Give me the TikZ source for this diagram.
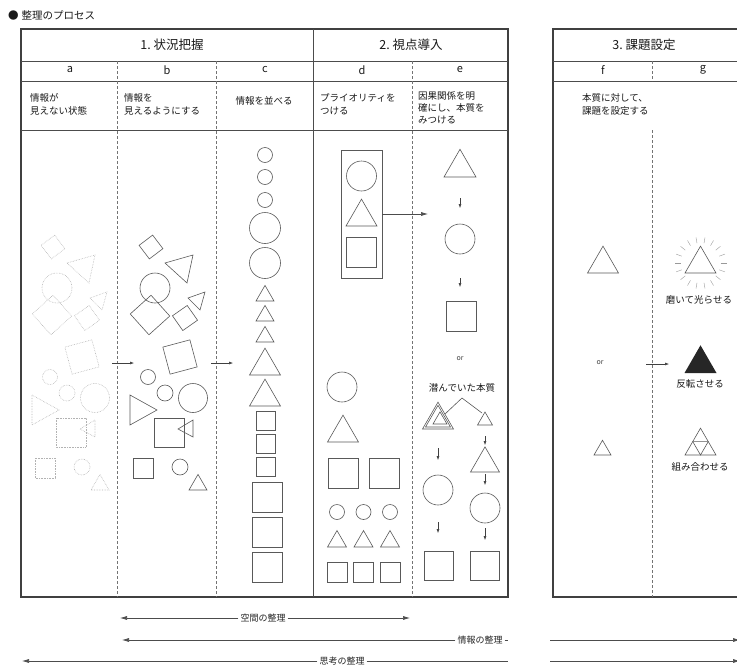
\documentclass[tikz,border=0pt]{standalone}
\usepackage{fontspec}
\setmainfont{Noto Sans CJK JP}
\usetikzlibrary{arrows.meta}
\tikzset{
  frame/.style={draw=black!75,line width=1.1pt},
  rule/.style={draw=black!70,line width=0.7pt},
  sep/.style={draw=black!55,densely dashed,line width=0.5pt},
  fig/.style={draw=black!65,line width=0.6pt},
  faint/.style={draw=black!30,densely dotted,line width=0.6pt},
  sq/.style={fig,rectangle,minimum size=#1,inner sep=0pt},
  tip/.style={draw=black!75,line width=0.5pt,-{Latex[length=4pt,width=3pt]}},
  span/.style={draw=black!70,line width=0.6pt,-{Latex[length=7pt,width=4pt]}},
  bare/.style={draw=black!70,line width=0.6pt},
  ray/.style={draw=black!40,line width=0.4pt},
  head/.style={font=\fontsize{12.5}{14}\selectfont,text=black!90},
  colname/.style={font=\fontsize{11}{13}\selectfont,text=black!90},
  note/.style={font=\fontsize{9.5}{13.5}\selectfont,text=black!90,align=left,inner sep=0pt},
  small/.style={font=\fontsize{7}{8}\selectfont,text=black!75},
  lbl/.style={font=\fontsize{9}{11}\selectfont,text=black!85,fill=white,inner sep=2pt},
}
% triangle: centre x, base y, width
\newcommand{\tri}[3]{(#1-#3/2,#2) -- (#1+#3/2,#2) -- (#1,#2-0.866*#3) -- cycle}
% scattered shapes of column b
\newcommand{\scatter}{%
  \node[pile,rectangle,inner sep=0pt,minimum size=17pt,rotate=37] at (151,247) {};
  \draw[pile] (165,263) -- (193,255) -- (187,283) -- cycle;
  \draw[pile] (155,288) circle (15pt);
  \node[pile,rectangle,inner sep=0pt,minimum size=28pt,rotate=42] at (150,315) {};
  \draw[pile] (188,298) -- (205,292) -- (200,310) -- cycle;
  \node[pile,rectangle,inner sep=0pt,minimum size=18pt,rotate=35] at (185,318) {};
  \node[pile,rectangle,inner sep=0pt,minimum size=28pt,rotate=15] at (180,357) {};
  \draw[pile] (148,377) circle (7.5pt);
  \draw[pile] (165,393) circle (8pt);
  \draw[pile] (193,398) circle (14.5pt);
  \draw[pile] (130,395) -- (157,410) -- (130,425) -- cycle;
  \draw[pile] (154,418) rectangle (184,447);
  \draw[pile] (193,420) -- (178,429) -- (193,437) -- cycle;
  \draw[pile] (133,458) rectangle (153,478);
  \draw[pile] (180,467) circle (8pt);
  \draw[pile] \tri{198}{490}{18};
}

\begin{document}
\begin{tikzpicture}[x=1pt,y=-1pt]
  \useasboundingbox (0,0) rectangle (737,667);
  \clip (0,0) rectangle (737,667);

  \node[anchor=west,inner sep=0pt,font=\fontsize{10.5}{12}\selectfont,text=black!90] (title) at (8,15) {●\hspace{3pt}整理のプロセス};

  % Tables
  \draw[frame] (21,29) rectangle (508,597);
  \draw[frame] (553,29) rectangle (760,597);
  \draw[rule] (313,29) -- (313,597);
  \foreach \y in {61,81,130} \draw[rule] (21,\y) -- (508,\y);
  \foreach \y in {61,81} \draw[rule] (553,\y) -- (760,\y);
  \foreach \x in {117,216,412} \draw[sep] (\x,61) -- (\x,597);
  \draw[sep] (652,61) -- (652,81);
  \draw[sep] (652,130) -- (652,597);

  % Headings
  \node[head] (step1) at (172,45) {1.\ 状況把握};
  \node[head] (step2) at (411,45) {2.\ 視点導入};
  \node[head] (step3) at (644,45) {3.\ 課題設定};
  \foreach \n/\x in {a/70,b/167,c/265,d/362,e/460,f/603,g/703}
    \node[colname] (col\n) at (\x,70) {\n};

  \node[note,anchor=north west] (txta) at (30,93) {情報が\\見えない状態};
  \node[note,anchor=north west] (txtb) at (124,93) {情報を\\見えるようにする};
  \node[note] (txtc) at (264,101) {情報を並べる};
  \node[note,anchor=north west] (txtd) at (320,93) {プライオリティを\\つける};
  \node[note,anchor=north west,font=\fontsize{9.5}{12}\selectfont] (txte) at (418,91) {因果関係を明\\確にし、本質を\\みつける};
  \node[note,anchor=north west] (txtfg) at (582,93) {本質に対して、\\課題を設定する};

  % a and b
  \begin{scope}[xshift=-98pt,pile/.style={faint}]
    \scatter
  \end{scope}
  \begin{scope}[pile/.style={fig}]
    \scatter
  \end{scope}
  \coordinate (ab0) at (112,363); \coordinate (ab1) at (134,363);
  \coordinate (bc0) at (211,363); \coordinate (bc1) at (233,363);
  \draw[tip] (ab0) -- (ab1);
  \draw[tip] (bc0) -- (bc1);

  % c
  \foreach \y in {155,177,200} \draw[fig] (265,\y) circle (7.5pt);
  \foreach \y in {228,263} \draw[fig] (265,\y) circle (15.5pt);
  \foreach \y in {301,321,342} \draw[fig] \tri{265}{\y}{18};
  \foreach \y in {375,406} \draw[fig] \tri{265}{\y}{31};
  \foreach \y in {421,444,467} \node[sq=19pt] at (266,\y) {};
  \foreach \y in {497,532,567} \node[sq=30pt] at (267,\y) {};

  % d
  \node[fig,minimum width=41pt,minimum height=128pt,inner sep=0pt] (prio) at (361.5,214) {};
  \draw[fig] (361.5,176) circle (15pt);
  \draw[fig] \tri{361.5}{226}{31};
  \node[sq=30pt] at (361.5,252) {};
  \coordinate (cause) at (428,214);
  \draw[span] (prio.east) -- (cause);
  \draw[fig] (342,387) circle (15pt);
  \draw[fig] \tri{343}{442}{31};
  \node[sq=30pt] at (343,473) {};
  \node[sq=30pt] at (384,473) {};
  \foreach \x in {337,363.5,390} {
    \draw[fig] (\x,512) circle (7.5pt);
    \draw[fig] \tri{\x}{547}{19};
    \node[sq=20pt] at (\x,572) {};
  }

  % e
  \draw[fig] \tri{460}{177}{32};
  \draw[tip] (460,198) -- (460,208);
  \draw[fig] (460,239) circle (15pt);
  \draw[tip] (460,278) -- (460,287);
  \node[sq=30pt] at (461,316) {};
  \node[small] (or1) at (460,359) {or};
  \node[note] (hidden) at (462,388) {潜んでいた本質};
  \draw[fig] (445,414) -- (462,398) -- (482,413);
  \draw[fig] \tri{438}{429}{31};
  \draw[fig] \tri{438}{427}{25};
  \draw[fig] \tri{440}{424}{14};
  \draw[fig] \tri{485}{425}{15};
  \draw[tip] (438,448) -- (438,460);
  \draw[fig] (438,490) circle (15pt);
  \draw[tip] (438,522) -- (438,533);
  \node[sq=29pt] at (438.5,566) {};
  \draw[tip] (485,436) -- (485,445);
  \draw[fig] \tri{485}{472}{29};
  \draw[tip] (485,474) -- (485,485);
  \draw[fig] (485,508) circle (15pt);
  \draw[tip] (485,528) -- (485,540);
  \node[sq=29pt] at (484.5,566) {};

  % f
  \draw[fig] \tri{603}{273}{31};
  \node[small] (or2) at (600,363) {or};
  \draw[fig] \tri{602.5}{455}{17};
  \coordinate (fg0) at (646,364); \coordinate (fg1) at (669,364);
  \draw[tip] (fg0) -- (fg1);

  % g
  \draw[fig] \tri{700.5}{273}{31};
  \foreach \a in {0,20,...,340}
    \draw[ray] ([shift={(\a:20pt)}]700.5,263) -- ([shift={(\a:26pt)}]700.5,263);
  \node[note] (shine) at (699,300) {磨いて光らせる};
  \fill[black!85] \tri{700.5}{373}{32};
  \node[note] (invert) at (700,384) {反転させる};
  \draw[fig] \tri{700.5}{455}{31};
  \draw[fig] (692.75,441.6) -- (708.25,441.6) -- (700.5,455) -- cycle;
  \node[note] (combine) at (700,467) {組み合わせる};

  % Ranges
  \node[lbl] (space) at (263,618) {空間の整理};
  \coordinate (spaceL) at (120,618); \coordinate (spaceR) at (410,618);
  \draw[span] (space.west) -- (spaceL);
  \draw[span] (space.east) -- (spaceR);
  \node[lbl] (info) at (480,640) {情報の整理};
  \coordinate (infoL) at (122,640); \coordinate (infoR) at (508,640);
  \draw[span] (info.west) -- (infoL);
  \draw[bare] (info.east) -- (infoR);
  \node[lbl] (thought) at (342,661) {思考の整理};
  \coordinate (thoughtL) at (22,661); \coordinate (thoughtR) at (508,661);
  \draw[span] (thought.west) -- (thoughtL);
  \draw[bare] (thought.east) -- (thoughtR);
  \coordinate (info3L) at (550,640); \coordinate (info3R) at (740,640);
  \coordinate (thought3L) at (550,661); \coordinate (thought3R) at (740,661);
  \draw[span] (info3L) -- (info3R);
  \draw[span] (thought3L) -- (thought3R);
\end{tikzpicture}
\end{document}
